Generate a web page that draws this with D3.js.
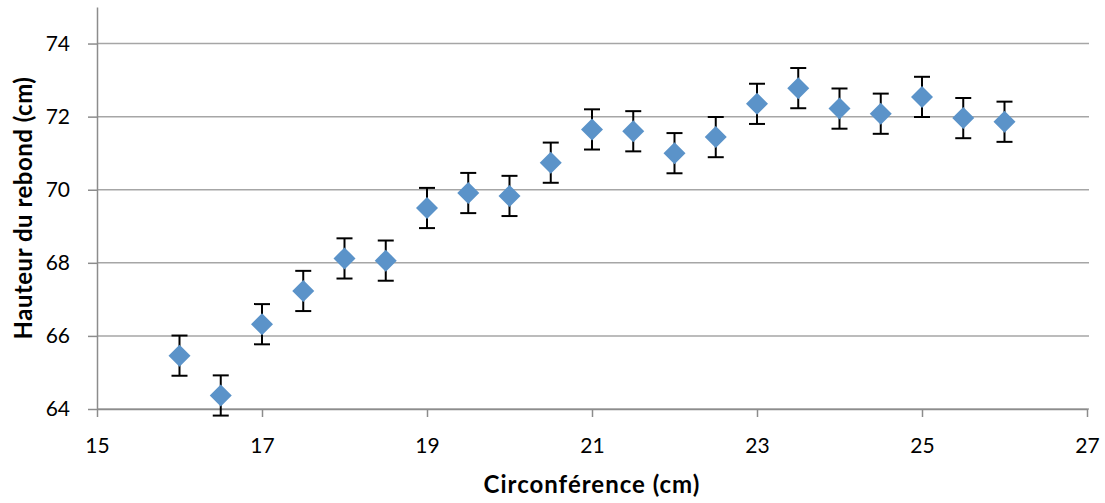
<!DOCTYPE html>
<html>
<head>
<meta charset="utf-8">
<script src="https://cdn.jsdelivr.net/npm/d3@7"></script>
<style>
  body { margin: 0; background: #fff; }
  text { font-family: Lato, "Open Sans", sans-serif; }
</style>
</head>
<body>
<div id="chart"></div>
<script>
// Data
const circumference = [16, 16.5, 17, 17.5, 18, 18.5, 19, 19.5, 20, 20.5, 21, 21.5, 22, 22.5, 23, 23.5, 24, 24.5, 25, 25.5, 26];
const bounce = [65.46, 64.37, 66.32, 67.23, 68.12, 68.06, 69.5, 69.91, 69.83, 70.74, 71.65, 71.6, 71.0, 71.44, 72.35, 72.78, 72.22, 72.08, 72.54, 71.96, 71.86];
const errorBar = [0.55, 0.55, 0.55, 0.55, 0.55, 0.55, 0.55, 0.55, 0.55, 0.55, 0.55, 0.55, 0.55, 0.55, 0.55, 0.55, 0.55, 0.55, 0.55, 0.55, 0.55];
const xTicks = [15, 17, 19, 21, 23, 25, 27];
const yTicks = [64, 66, 68, 70, 72, 74];

const width = 1105, height = 503;
const margin = { top: 7, right: 16, bottom: 94, left: 97 };

const svg = d3.select("#chart")
    .append("svg")
    .attr("width", width)
    .attr("height", height);

const xScale = d3.scaleLinear().domain([15, 27]).range([margin.left, width - margin.right - 2]);
const yScale = d3.scaleLinear().domain([64, 75]).range([height - margin.bottom, margin.top]);

// Horizontal gridlines
svg.append("g")
    .selectAll("line")
    .data(yTicks)
    .join("line")
    .attr("x1", margin.left)
    .attr("x2", width - margin.right)
    .attr("y1", d => yScale(d))
    .attr("y2", d => yScale(d))
    .attr("stroke", "#a6a6a6")
    .attr("stroke-width", 1.5);

// Y axis
const yAxis = svg.append("g")
    .attr("transform", `translate(${margin.left},0)`)
    .call(d3.axisLeft(yScale).tickValues(yTicks).tickSize(9).tickPadding(18).tickSizeOuter(0));
yAxis.select(".domain").attr("stroke", "#8c8c8c").attr("stroke-width", 1.5);
yAxis.selectAll(".tick line").attr("stroke", "#8c8c8c").attr("stroke-width", 1.5);
yAxis.selectAll(".tick text").attr("font-size", 21).attr("fill", "#000")
    .style("font-family", "Lato, 'Open Sans', sans-serif");

// X axis
const xAxis = svg.append("g")
    .attr("transform", `translate(0,${yScale(64)})`)
    .call(d3.axisBottom(xScale).tickValues(xTicks).tickSize(8).tickPadding(21).tickSizeOuter(0));
xAxis.select(".domain").attr("stroke", "#8c8c8c").attr("stroke-width", 1.5);
xAxis.selectAll(".tick line").attr("stroke", "#8c8c8c").attr("stroke-width", 1.5);
xAxis.selectAll(".tick text").attr("font-size", 21).attr("fill", "#000")
    .style("font-family", "Lato, 'Open Sans', sans-serif");

const points = circumference.map((c, i) => ({ x: c, y: bounce[i], e: errorBar[i] }));

// Error bars
const errs = svg.append("g").selectAll("g")
    .data(points)
    .join("g")
    .attr("stroke", "#000")
    .attr("stroke-width", 2);
errs.append("line")
    .attr("x1", d => xScale(d.x)).attr("x2", d => xScale(d.x))
    .attr("y1", d => yScale(d.y + d.e)).attr("y2", d => yScale(d.y - d.e));
errs.append("line")
    .attr("x1", d => xScale(d.x) - 8).attr("x2", d => xScale(d.x) + 8)
    .attr("y1", d => yScale(d.y + d.e)).attr("y2", d => yScale(d.y + d.e));
errs.append("line")
    .attr("x1", d => xScale(d.x) - 8).attr("x2", d => xScale(d.x) + 8)
    .attr("y1", d => yScale(d.y - d.e)).attr("y2", d => yScale(d.y - d.e));

// Diamond markers
svg.append("g").selectAll("path")
    .data(points)
    .join("path")
    .attr("transform", d => `translate(${xScale(d.x)},${yScale(d.y)})`)
    .attr("d", "M0,-11L11,0L0,11L-11,0Z")
    .attr("fill", "#5b93c9");

// Axis titles
svg.append("text")
    .attr("x", (xScale(15) + xScale(27)) / 2)
    .attr("y", 493)
    .attr("text-anchor", "middle")
    .attr("font-size", 24)
    .attr("font-weight", "bold")
    .attr("letter-spacing", 1)
    .text("Circonférence (cm)");

svg.append("text")
    .attr("transform", `translate(32,${(yScale(64) + yScale(75)) / 2}) rotate(-90)`)
    .attr("text-anchor", "middle")
    .attr("font-size", 24)
    .attr("font-weight", "bold")
    .attr("letter-spacing", 0.5)
    .text("Hauteur du rebond (cm)");
</script>
</body>
</html>
